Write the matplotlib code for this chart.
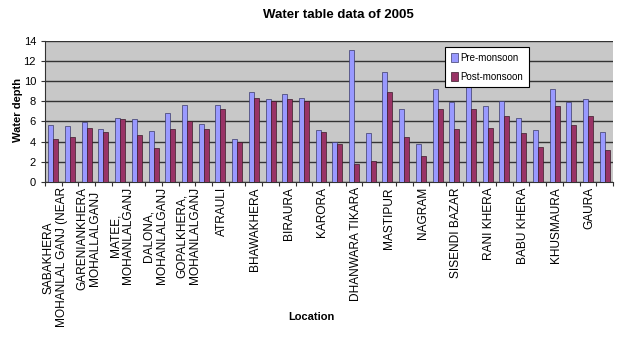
import numpy as np
import matplotlib.pyplot as plt
from matplotlib.ticker import FixedLocator, NullFormatter

plt.rcParams["font.family"] = ["Liberation Sans", "DejaVu Sans"]

# water depth (m) at each location, 34 sites
pre_monsoon = [5.64, 5.5, 5.97, 5.2, 6.37, 6.2, 5.0, 6.8, 7.66, 5.7,
               7.63, 4.28, 8.96, 8.23, 8.69, 8.33, 5.14, 3.95, 13.1, 4.81,
               10.91, 7.23, 3.71, 9.25, 7.9, 9.39, 7.53, 8.03, 6.37, 5.14,
               9.25, 7.9, 8.26, 4.97]
post_monsoon = [4.25, 4.4, 5.37, 4.97, 6.2, 4.64, 3.38, 5.27, 6.07, 5.27,
                7.23, 3.95, 8.36, 8.03, 8.23, 8.03, 4.97, 3.71, 1.72, 2.06,
                8.92, 4.44, 2.55, 7.2, 5.2, 7.26, 5.37, 6.57, 4.81, 3.42,
                7.53, 5.67, 6.57, 3.15]

# only every second location gets a label on the axis
labels = {
    0: "SABAKHERA\nMOHANLAL GANJ (NEAR",
    2: "GARENIANKHERA\nMOHALLALGANJ",
    4: "MATEE,\nMOHANLALGANJ",
    6: "DALONA,\nMOHANLALGANJ",
    8: "GOPALKHERA,\nMOHANLALGANJ",
    10: "ATRAULI",
    12: "BHAWAKHERA",
    14: "BIRAURA",
    16: "KARORA",
    18: "DHANWARA TIKARA",
    20: "MASTIPUR",
    22: "NAGRAM",
    24: "SISENDI BAZAR",
    26: "RANI KHERA",
    28: "BABU KHERA",
    30: "KHUSMAURA",
    32: "GAURA",
}

n = len(pre_monsoon)
x = np.arange(n)
w = 0.3

fig = plt.figure(figsize=(6.21, 3.44), dpi=100)
ax = fig.add_axes([45 / 621, 1 - 181.7 / 344, 568 / 621, 140.7 / 344])
ax.set_facecolor("#c8c8c8")

ax.bar(x - w / 2, pre_monsoon, w, color="#9999ff", edgecolor="#3a3a6a",
       linewidth=0.5, label="Pre-monsoon", zorder=3)
ax.bar(x + w / 2, post_monsoon, w, color="#993366", edgecolor="#3a1a2a",
       linewidth=0.5, label="Post-monsoon", zorder=3)

ax.set_xlim(-0.5, n - 0.5)
ax.set_ylim(0, 14)
ax.set_yticks(range(0, 15, 2))
ax.yaxis.grid(True, color="#333333", linewidth=1.0, zorder=1)
ax.tick_params(axis="y", labelsize=8, length=3, color="#333333")

# category separator ticks, labels placed under every other bar pair
ax.xaxis.set_major_locator(FixedLocator(np.arange(-0.5, n, 1)))
ax.xaxis.set_major_formatter(NullFormatter())
ax.tick_params(axis="x", length=3, color="#333333")
for i, name in labels.items():
    ax.text(i + 0.1, -0.55, name, rotation=90, ha="center", va="top",
            multialignment="center", fontsize=8.6, linespacing=1.12,
            transform=ax.transData)

for side in ["top", "right"]:
    ax.spines[side].set_visible(False)
ax.spines["left"].set_color("#333333")
ax.spines["bottom"].set_color("#333333")

fig.text(338 / 621, 1 - 15 / 344, "Water table data of 2005", ha="center",
         va="center", fontsize=9.5, fontweight="bold")
fig.text(18 / 621, 1 - 110 / 344, "Water depth", ha="center", va="center",
         rotation=90, fontsize=8, fontweight="bold")
fig.text(311 / 621, 1 - 317 / 344, "Location", ha="center", va="center",
         fontsize=8, fontweight="bold")

leg = ax.legend(loc="upper left", bbox_to_anchor=((445 - 45) / 568, (181.7 - 47) / 140.7),
                fontsize=7, frameon=True, fancybox=False, borderpad=0.6,
                handlelength=0.7, handleheight=1.0, handletextpad=0.3,
                labelspacing=0.9, borderaxespad=0)
leg.get_frame().set_edgecolor("black")
leg.get_frame().set_linewidth(0.8)
leg.get_frame().set_alpha(1)

fig.savefig("out.png", dpi=100)
